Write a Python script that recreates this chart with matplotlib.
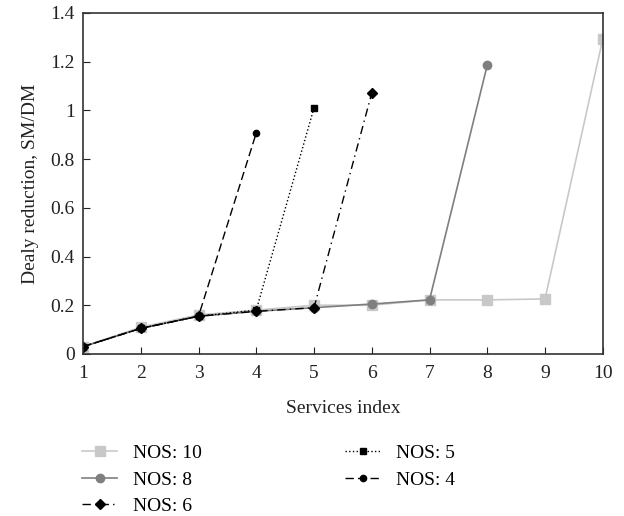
import matplotlib
matplotlib.use("Agg")
import matplotlib.pyplot as plt

plt.rcParams['font.family'] = ['Liberation Serif', 'DejaVu Serif']

# data
x10 = [1, 2, 3, 4, 5, 6, 7, 8, 9, 10]
nos10 = [0.03, 0.11, 0.16, 0.18, 0.20, 0.20, 0.222, 0.222, 0.226, 1.293]
x8 = [1, 2, 3, 4, 5, 6, 7, 8]
nos8 = [0.03, 0.105, 0.155, 0.175, 0.19, 0.205, 0.222, 1.186]
x6 = [1, 2, 3, 4, 5, 6]
nos6 = [0.03, 0.105, 0.155, 0.175, 0.19, 1.071]
x5 = [1, 2, 3, 4, 5]
nos5 = [0.03, 0.105, 0.155, 0.18, 1.01]
x4 = [1, 2, 3, 4]
nos4 = [0.03, 0.105, 0.155, 0.907]

fig = plt.figure(figsize=(6.24, 5.16), dpi=100)
ax = fig.add_axes([0.133, 0.314, 0.833, 0.661])

ax.plot(x10, nos10, color='#c8c8c8', marker='s', markersize=7, linewidth=1.2, label='NOS: 10')
ax.plot(x8, nos8, color='#7f7f7f', marker='o', markersize=6, linewidth=1.2, label='NOS: 8')
ax.plot(x6, nos6, color='black', marker='D', markersize=5, linewidth=1.0,
        dashes=[6, 3, 1, 3], label='NOS: 6')
ax.plot(x5, nos5, color='black', marker='s', markersize=5, linewidth=1.0,
        linestyle=':', label='NOS: 5')
ax.plot(x4, nos4, color='black', marker='o', markersize=4.5, linewidth=1.0,
        dashes=[6, 3], label='NOS: 4')

ax.set_xlim(1, 10)
ax.set_ylim(0, 1.4)
ax.set_xticks(range(1, 11))
ax.set_yticks([0, 0.2, 0.4, 0.6, 0.8, 1.0, 1.2, 1.4])
ax.set_yticklabels(['0', '0.2', '0.4', '0.6', '0.8', '1', '1.2', '1.4'])
ax.tick_params(direction='in', length=5, labelsize=14, colors='#222222', pad=6)
ax.tick_params(axis='x', pad=8)
for s in ax.spines.values():
    s.set_color('#333333')
    s.set_linewidth(1.2)

ax.set_xlabel('Services index', fontsize=14, color='#222222', labelpad=13)
ax.set_ylabel('Dealy reduction, SM/DM', fontsize=14, color='#222222', labelpad=8)

fig.legend(loc='upper left', bbox_to_anchor=(0.116, 0.158), ncol=2, frameon=False,
           fontsize=14, handlelength=1.8, columnspacing=7.4, labelspacing=0.47,
           handletextpad=0.8, borderpad=0)

fig.savefig('out.png', dpi=100)
